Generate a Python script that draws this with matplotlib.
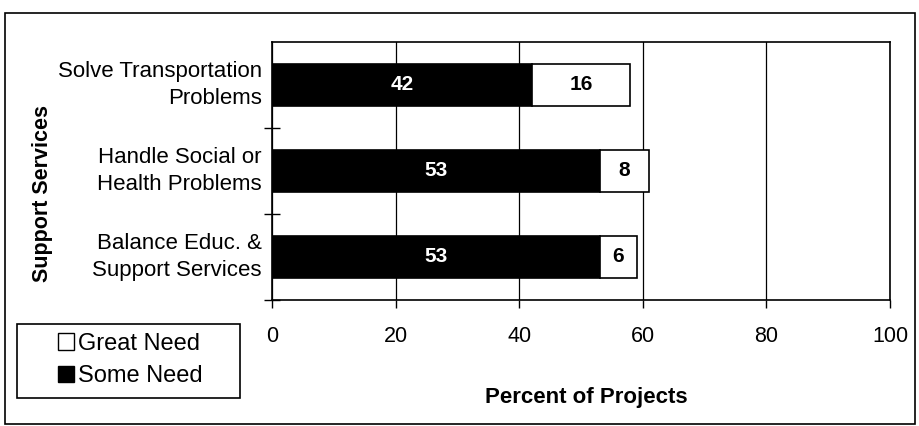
import matplotlib
matplotlib.use("Agg")
import matplotlib.pyplot as plt
from matplotlib.patches import Rectangle, Patch

plt.rcParams['font.family'] = ['Liberation Sans', 'DejaVu Sans']

categories = ["Solve Transportation\nProblems", "Handle Social or\nHealth Problems", "Balance Educ. &\nSupport Services"]
some_need = [42, 53, 53]
great_need = [16, 8, 6]
xticks = [0, 20, 40, 60, 80, 100]

fig = plt.figure(figsize=(9.19, 4.26), dpi=100)
ax = fig.add_axes([272/919, 1-300/426, (890-272)/919, (300-42)/426])

y = list(range(len(categories)))
ax.barh(y, some_need, height=0.49, color='black', edgecolor='black', linewidth=1.2, zorder=3)
ax.barh(y, great_need, left=some_need, height=0.49, color='white', edgecolor='black', linewidth=1.2, zorder=3)

for i in y:
    ax.text(some_need[i]/2, i, str(some_need[i]), color='white', ha='center', va='center',
            fontsize=15, fontweight='bold', zorder=4)
    ax.text(some_need[i] + great_need[i]/2, i, str(great_need[i]), color='black', ha='center',
            va='center', fontsize=15, fontweight='bold', zorder=4)

ax.set_xlim(0, 100)
ax.set_ylim(2.5, -0.5)
ax.set_xticks(xticks)
ax.set_xticklabels([str(v) for v in xticks], fontsize=15.5)
ax.tick_params(axis='x', length=6, width=1, pad=13, direction='out')
ax.xaxis.grid(True, color='black', linewidth=0.9, zorder=0)
ax.set_axisbelow(True)

# category boundary ticks crossing the axis
ax.set_yticks([0.5, 1.5, 2.5])
ax.set_yticklabels([])
ax.tick_params(axis='y', direction='inout', length=12, width=1)
for i, c in enumerate(categories):
    ax.text(-0.0165, i, c, transform=ax.get_yaxis_transform(), ha='right', va='center',
            fontsize=16, linespacing=1.35)

for s in ax.spines.values():
    s.set_linewidth(1.2)
    s.set_color('black')

fig.text(43/919, 1-194/426, "Support Services", rotation=90, ha='center', va='center',
         fontsize=15.5, fontweight='bold')
fig.text(586/919, 1-397/426, "Percent of Projects", ha='center', va='center',
         fontsize=16, fontweight='bold')

# outer frame
fig.patches.append(Rectangle((5/919, 2/426), 910/919, (426-15)/426, transform=fig.transFigure,
                             fill=False, edgecolor='black', linewidth=1.2))

# legend frame
fig.patches.append(Rectangle((17/919, 1-398/426), (240-17)/919, 74/426, transform=fig.transFigure,
                             fill=False, edgecolor='black', linewidth=1.2))

handles = [Patch(facecolor='white', edgecolor='black', linewidth=1),
           Patch(facecolor='black', edgecolor='black', linewidth=1)]
leg = fig.legend(handles, ["Great Need", "Some Need"], loc='center',
                 bbox_to_anchor=(130/919, 1-360/426),
                 borderaxespad=0, fontsize=17, frameon=False,
                 handlelength=0.7, handleheight=0.7, handletextpad=0.15, borderpad=0,
                 labelspacing=0.45)

fig.savefig("out.png", dpi=100)
